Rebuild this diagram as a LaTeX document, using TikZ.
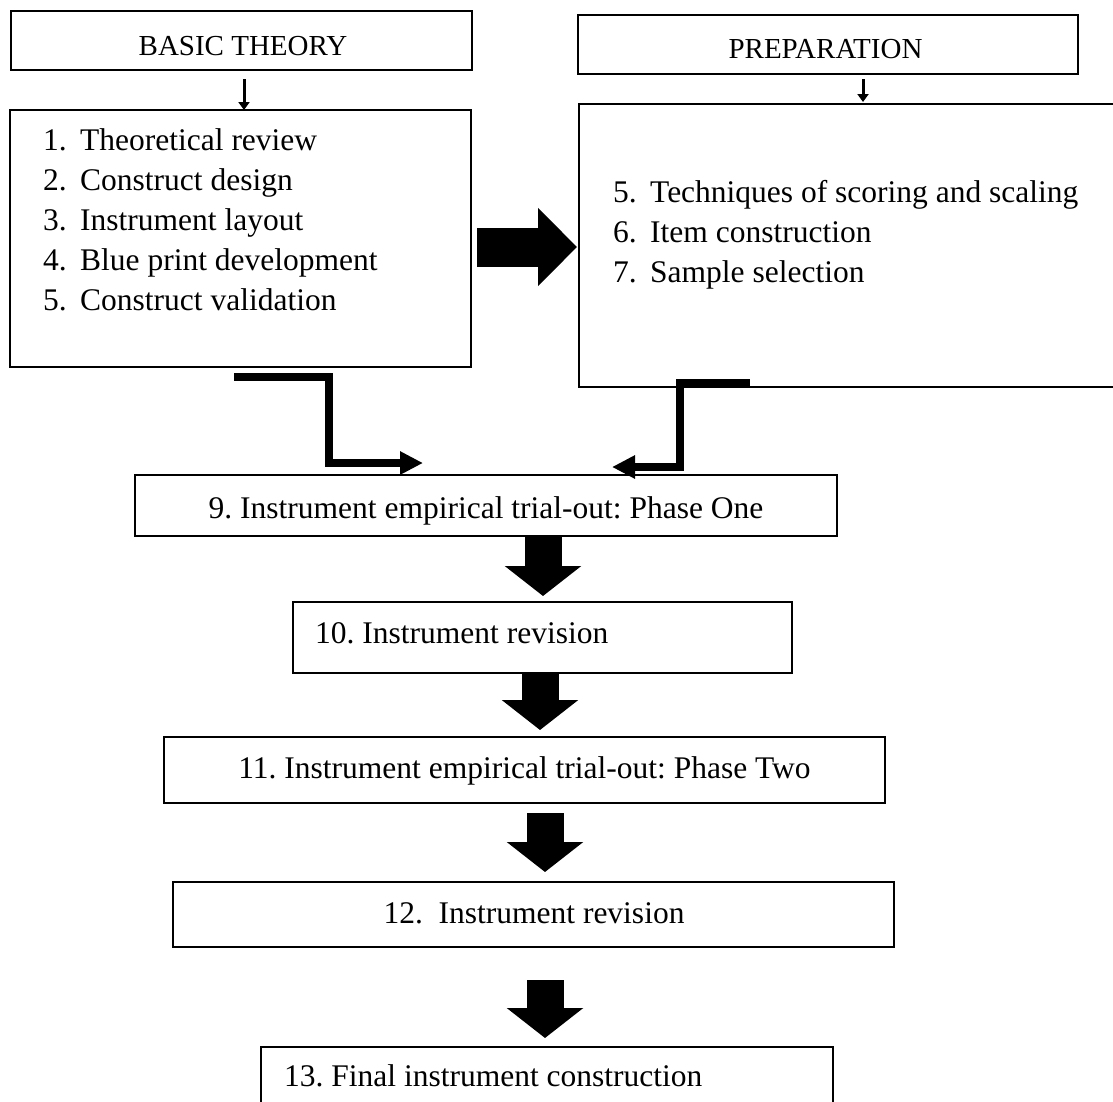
\documentclass[tikz,border=0pt]{standalone}
\usepackage{fontspec}
\setmainfont{Liberation Serif}
\usetikzlibrary{arrows.meta}
\frenchspacing
\begin{document}
\begin{tikzpicture}[x=1pt,y=-1pt,
  box/.style={draw, line width=1.6pt, inner sep=0pt, outer sep=0pt},
  hdr/.style={font=\fontsize{29}{35}\selectfont, inner sep=0pt},
  txt/.style={font=\fontsize{31.5}{40}\selectfont, inner sep=0pt},
  smallarrow/.style={line width=3pt, -{Triangle[length=8pt,width=11pt]}},
  bentarrow/.style={line width=8pt, line join=miter, -{Triangle[length=23pt,width=22pt]}},
  bigarrow/.style={line width=37pt, -{Triangle[length=30pt,width=75pt]}},
  sidearrow/.style={line width=39pt, -{Triangle[length=39pt,width=76pt]}},
]
\useasboundingbox (0,0) rectangle (1113,1101);

% header boxes
\node[box, minimum width=461pt, minimum height=59pt] (bt) at (241.5,40.5) {};
\node[hdr, anchor=base] (btt) at (243,55) {BASIC THEORY};
\node[box, minimum width=500pt, minimum height=59pt] (pr) at (828,44.5) {};
\node[hdr, anchor=base] (prt) at (825.5,58) {PREPARATION};

% list boxes
\node[box, minimum width=461pt, minimum height=257pt] (l1) at (240.5,238.5) {};
\node[txt, anchor=base west] (l1a) at (43,150) {\makebox[37pt][l]{1.}Theoretical review};
\node[txt, anchor=base west] (l1b) at (43,190) {\makebox[37pt][l]{2.}Construct design};
\node[txt, anchor=base west] (l1c) at (43,230) {\makebox[37pt][l]{3.}Instrument layout};
\node[txt, anchor=base west] (l1d) at (43,270) {\makebox[37pt][l]{4.}Blue print development};
\node[txt, anchor=base west] (l1e) at (43,310) {\makebox[37pt][l]{5.}Construct validation};

\node[box, minimum width=539pt, minimum height=283pt] (l2) at (848.5,245.5) {};
\node[txt, anchor=base west] (l2a) at (613,202) {\makebox[37pt][l]{5.}Techniques of scoring and scaling};
\node[txt, anchor=base west] (l2b) at (613,242) {\makebox[37pt][l]{6.}Item construction};
\node[txt, anchor=base west] (l2c) at (613,282) {\makebox[37pt][l]{7.}Sample selection};

% step boxes
\node[box, minimum width=702pt, minimum height=61pt] (b9) at (486,505.5) {};
\node[txt, anchor=base] (b9t) at (486,518) {9. Instrument empirical trial-out: Phase One};
\node[box, minimum width=499pt, minimum height=71pt] (b10) at (542.5,637.5) {};
\node[txt, anchor=base west] (b10t) at (315,643) {10. Instrument revision};
\node[box, minimum width=721pt, minimum height=66pt] (b11) at (524.5,770) {};
\node[txt, anchor=base] (b11t) at (524.5,778) {11. Instrument empirical trial-out: Phase Two};
\node[box, minimum width=721pt, minimum height=65pt] (b12) at (533.5,914.5) {};
\node[txt, anchor=base] (b12t) at (534,923) {12.\ \ Instrument revision};
\node[box, minimum width=572pt, minimum height=68pt] (b13) at (547,1081) {};
\node[txt, anchor=base west] (b13t) at (284,1086) {13. Final instrument construction};

% small arrows
\coordinate (sa1) at (244,79);
\coordinate (sa2) at (863,79);
\draw[smallarrow] (sa1) -- (l1.north -| sa1);
\draw[smallarrow] (sa2) -- ([yshift=2pt]l2.north -| sa2);

% big right arrow
\coordinate (ra) at (0,247);
\draw[sidearrow, shorten <=6pt, shorten >=2pt] (l1.east |- ra) -- (l2.west |- ra);

% bent arrows
\coordinate (bl1) at (234,377);
\coordinate (bl2) at (329,377);
\coordinate (bl3) at (329,463);
\coordinate (bl4) at (423,463);
\draw[bentarrow] (bl1) -- (bl2) -- (bl3) -- (bl4);
\coordinate (br1) at (750,383);
\coordinate (br2) at (680,383);
\coordinate (br3) at (680,467);
\coordinate (br4) at (612,467);
\draw[bentarrow] (br1) -- (br2) -- (br3) -- (br4);

% vertical big arrows
\coordinate (v1) at (543,0);
\coordinate (v2) at (540,0);
\coordinate (v3) at (545,0);
\draw[bigarrow, shorten >=6pt] (b9.south -| v1) -- (b10.north -| v1);
\draw[bigarrow, shorten >=7pt] (b10.south -| v2) -- (b11.north -| v2);
\draw[bigarrow, shorten <=10pt, shorten >=10pt] (b11.south -| v3) -- (b12.north -| v3);
\draw[bigarrow, shorten <=33pt, shorten >=9pt] (b12.south -| v3) -- (b13.north -| v3);
\end{tikzpicture}
\end{document}
